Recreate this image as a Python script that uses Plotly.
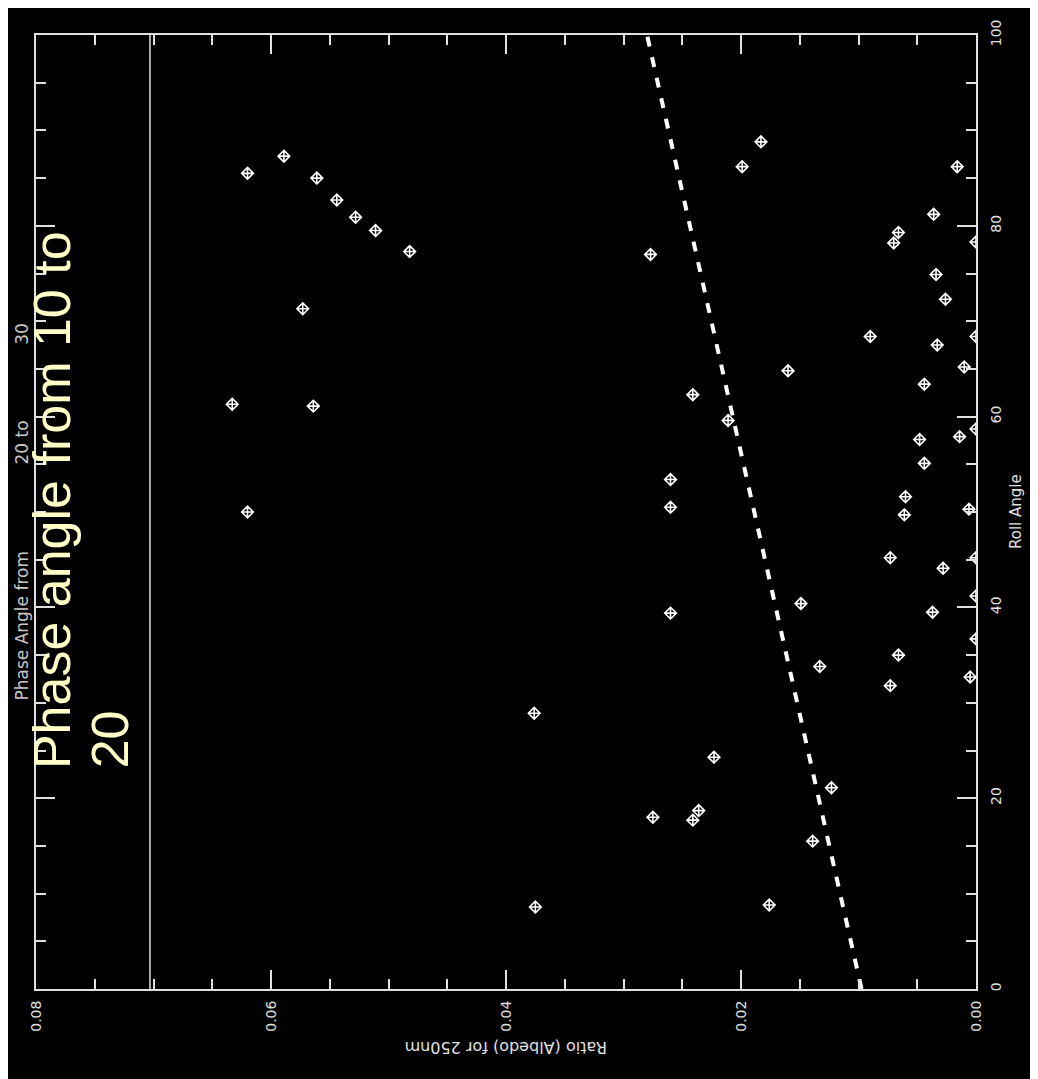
import plotly.graph_objects as go

# ---- data ----
roll_angle = [
    87.3, 85.5, 85.0, 82.7, 80.9, 79.5, 77.3, 71.3, 61.3, 61.1, 50.0,
    88.8, 86.2, 86.2, 81.2, 79.3, 78.2, 78.3, 77.0, 74.9, 72.3, 68.4, 67.5,
    68.4, 65.2, 64.8, 63.4, 62.3, 59.6, 58.7, 57.9, 57.6, 55.1, 53.4, 51.6,
    50.5, 49.7, 50.3,
    45.2, 45.2, 44.1, 41.2, 40.4, 39.4, 39.5, 36.7, 35.0, 33.8, 32.7, 31.8,
    24.3, 21.1, 18.7, 18.0, 17.7, 15.5, 8.8,
    28.9, 8.6,
]
albedo_ratio = [
    0.0589, 0.0620, 0.0561, 0.0544, 0.0528, 0.0511, 0.0482, 0.0573, 0.0633, 0.0564, 0.0620,
    0.0183, 0.0199, 0.0016, 0.0036, 0.0066, 0.0070, 0.0000, 0.0277, 0.0034, 0.0026, 0.0090, 0.0033,
    0.0000, 0.0010, 0.0160, 0.0044, 0.0241, 0.0211, 0.0000, 0.0014, 0.0048, 0.0044, 0.0260, 0.0060,
    0.0260, 0.0061, 0.0006,
    0.0073, 0.0000, 0.0028, 0.0000, 0.0149, 0.0260, 0.0037, 0.0000, 0.0066, 0.0133, 0.0005, 0.0073,
    0.0223, 0.0123, 0.0236, 0.0275, 0.0241, 0.0139, 0.0176,
    0.0376, 0.0375,
]
fit_roll = [0, 100]
fit_ratio = [0.00974, 0.0280]
ref_line_roll = [0, 100]
ref_line_ratio = [0.0703, 0.0703]

ratio_range = [0.08, 0.0]
roll_range = [0, 100]

title_text = "Phase Angle from" + "\u00a0" * 16 + "20 to" + "\u00a0" * 14 + "30"
overlay_line1 = "Phase angle from 10 to"
overlay_line2 = "20"
x_title = "Ratio (Albedo) for 250nm"
y_title = "Roll Angle"

# ---- figure ----
# the page adds an 8px body margin, so positions below are page pixels minus 8
OFF = 8
W, H = 1038, 1079
ML, MT = 36 - OFF, 26 - OFF
PW, PH = 940, 963
MR, MB = W - ML - PW, H - MT - PH


def px2paper(px, py):
    # px, py are page pixel coordinates
    return (px - OFF - ML) / PW, (MT + PH - (py - OFF)) / PH


AX = "#e0e0e0"
fig = go.Figure()
fig.add_trace(go.Scatter(
    x=ref_line_ratio, y=ref_line_roll, mode="lines",
    line=dict(color=AX, width=1.5), hoverinfo="skip", showlegend=False))
fig.add_trace(go.Scatter(
    x=fit_ratio, y=fit_roll, mode="lines",
    line=dict(color="white", width=4, dash="10px,11px"), showlegend=False))
fig.add_trace(go.Scatter(
    x=albedo_ratio, y=roll_angle, mode="markers",
    marker=dict(symbol="diamond-cross-open", size=9, color="white",
                line=dict(width=1.6, color="white")),
    showlegend=False))

axis_common = dict(
    showgrid=False, zeroline=False, showline=True, linecolor=AX, linewidth=2,
    mirror="ticks", ticks="inside", ticklen=19, tickwidth=1.5, tickcolor=AX,
    tickangle=-90, tickfont=dict(family="DejaVu Sans", size=14, color=AX),
)
fig.update_xaxes(
    range=ratio_range, tick0=0, dtick=0.02, tickformat=".2f",
    minor=dict(ticks="inside", ticklen=10, dtick=0.005, tick0=0,
               tickcolor=AX, tickwidth=1.5, showgrid=False),
    ticklabelstandoff=4, **axis_common)
fig.update_yaxes(
    range=roll_range, side="right", tick0=0, dtick=20,
    minor=dict(ticks="inside", ticklen=10, dtick=5, tick0=0,
               tickcolor=AX, tickwidth=1.5, showgrid=False),
    ticklabelstandoff=6, **axis_common)

ann = []
x, y = px2paper(1016, 507.5)
ann.append(dict(text=y_title, x=x, y=y, textangle=-90,
                font=dict(family="DejaVu Sans", size=15, color=AX)))
x, y = px2paper(506, 1048)
ann.append(dict(text=x_title, x=x, y=y, textangle=180,
                font=dict(family="DejaVu Sans", size=16, color=AX)))
x, y = px2paper(22, 508)
ann.append(dict(text=title_text, x=x, y=y, textangle=-90,
                font=dict(family="DejaVu Sans", size=17, color="#c8c8c8")))
x, y = px2paper(52, 495.5)
ann.append(dict(text=overlay_line1, x=x, y=y, textangle=-90,
                font=dict(family="Liberation Sans", size=52, color="#ffffc6")))
x, y = px2paper(110, 737)
ann.append(dict(text=overlay_line2, x=x, y=y, textangle=-90,
                font=dict(family="Liberation Sans", size=52, color="#ffffc6")))
for a in ann:
    a.update(xref="paper", yref="paper", showarrow=False,
             xanchor="center", yanchor="middle")

fig.update_layout(
    width=W, height=H, margin=dict(l=ML, r=MR, t=MT, b=MB, pad=0),
    paper_bgcolor="black", plot_bgcolor="black",
    annotations=ann, showlegend=False,
)
fig.write_html("out.html")
